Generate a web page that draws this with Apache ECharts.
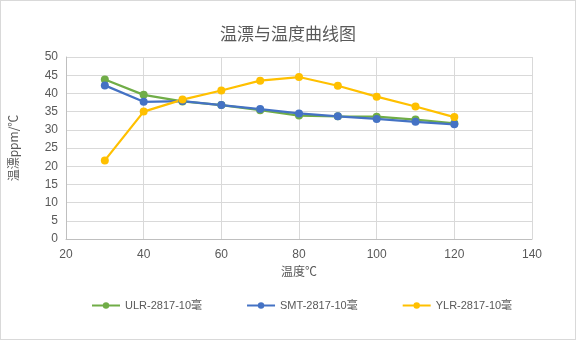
<!DOCTYPE html>
<html><head><meta charset="utf-8">
<script src="https://cdn.jsdelivr.net/npm/echarts@6/dist/echarts.min.js"></script>
<style>html,body{margin:0;padding:0;background:#fff}#c{width:574px;height:338px;border:1px solid #d9d9d9}</style>
</head><body><div id="c"></div>
<script>
const temps = [30,40,50,60,70,80,90,100,110,120];
const ulr = [43.8,39.6,37.8,36.8,35.4,33.9,33.7,33.6,32.8,31.8];
const smt = [42.2,37.7,37.9,36.8,35.7,34.5,33.7,33.0,32.2,31.5];
const ylr = [21.6,35.0,38.3,40.8,43.5,44.5,42.1,39.1,36.4,33.5];
const xTicks = {min:20, max:140, interval:20};
const yTicks = {min:0, max:50, interval:5};
const names = ['ULR-2817-10毫','SMT-2817-10毫','YLR-2817-10毫'];
const colors = ['#70ad47','#4472c4','#ffc000'];
const font = '"Liberation Sans","Noto Sans CJK SC",sans-serif';
const pair = (v) => temps.map((t,i)=>[t,v[i]]);
const chart = echarts.init(document.getElementById('c'));
chart.setOption({
  animation:false,
  title:{text:'温漂与温度曲线图',left:'center',top:19,textStyle:{fontFamily:'"Noto Sans CJK SC",sans-serif',fontSize:17,fontWeight:'normal',color:'#595959'}},
  grid:{left:65,right:43,top:56,bottom:100,containLabel:false,outerBoundsMode:'none'},
  xAxis:{type:'value',min:xTicks.min,max:xTicks.max,interval:xTicks.interval,
    name:'温度℃',nameLocation:'middle',nameGap:26,nameTextStyle:{fontFamily:'"Noto Sans CJK SC",sans-serif',fontSize:12,color:'#595959'},
    axisLine:{show:true,lineStyle:{color:'#bfbfbf'}},axisTick:{show:false},
    axisLabel:{fontFamily:font,fontSize:12,color:'#595959',margin:10},
    splitLine:{show:true,lineStyle:{color:'#d9d9d9'}}},
  yAxis:{type:'value',min:yTicks.min,max:yTicks.max,interval:yTicks.interval,
    name:'温漂ppm/℃',nameLocation:'middle',nameGap:47,nameRotate:90,nameTextStyle:{fontFamily:'"Noto Sans CJK SC",sans-serif',fontSize:12,color:'#595959'},
    axisLine:{show:true,lineStyle:{color:'#bfbfbf'}},axisTick:{show:false},
    axisLabel:{fontFamily:font,fontSize:12,color:'#595959',margin:8},
    splitLine:{show:true,lineStyle:{color:'#d9d9d9'}}},
  legend:{bottom:23,left:85,itemGap:44,itemWidth:28,itemHeight:8,
    textStyle:{fontFamily:font,fontSize:11,color:'#595959'},data:names},
  series:[ulr,smt,ylr].map((d,i)=>({
    name:names[i],type:'line',data:pair(d),symbol:'circle',symbolSize:8,
    lineStyle:{width:2.25,color:colors[i]},itemStyle:{color:colors[i]}
  }))
});
</script></body></html>
